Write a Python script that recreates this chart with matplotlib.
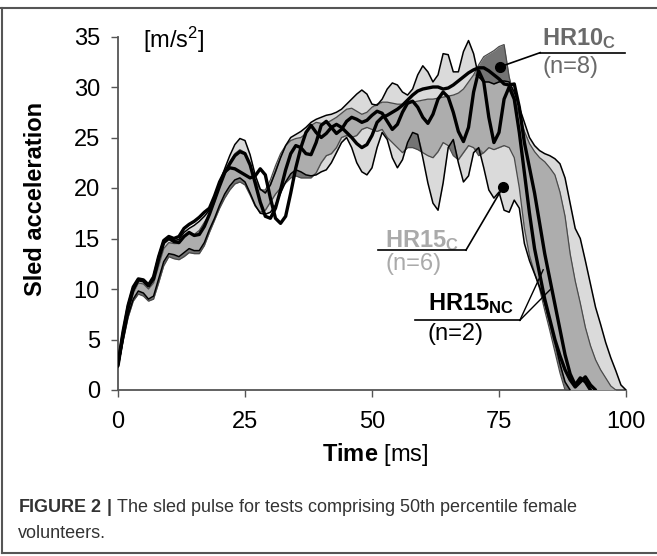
import numpy as np
import matplotlib
matplotlib.use("Agg")
import matplotlib.pyplot as plt
from matplotlib.lines import Line2D

plt.rcParams['font.family'] = ['Liberation Sans', 'DejaVu Sans']
plt.rcParams['mathtext.fontset'] = 'custom'
plt.rcParams['mathtext.rm'] = 'Liberation Sans'
plt.rcParams['mathtext.bf'] = 'Liberation Sans:bold'
plt.rcParams['mathtext.it'] = 'Liberation Sans:italic'

# time grid [ms]
time_ms = np.arange(0, 101)

# HR15_C corridor (light grey)
hr15c_upper = [2.6, 5.5, 8.0, 9.8, 10.9, 10.8, 10.3, 11.0, 12.8, 14.5,
               15.0, 14.8, 14.9, 15.6, 16.0, 16.3, 16.7, 17.2, 17.8, 19.0,
               20.5, 21.9, 23.2, 24.3, 24.9, 24.7, 23.3, 21.3, 19.9, 19.5,
               20.3, 21.6, 23.0, 24.2, 25.0, 25.3, 25.6, 26.0, 26.5, 26.8,
               27.0, 27.2, 27.3, 27.5, 27.8, 28.3, 28.8, 29.3, 29.7, 29.3,
               28.3, 28.2, 28.8, 29.8, 30.4, 30.2, 29.5, 29.2, 29.8, 31.2,
               32.1, 31.5, 30.5, 31.2, 33.3, 33.2, 31.5, 31.5, 33.5, 34.6,
               33.3, 31.0, 30.5, 30.5, 30.3, 30.5, 30.6, 30.5, 29.5, 28.0,
               26.5, 25.0, 24.2, 23.7, 23.4, 23.2, 22.9, 22.4, 21.0, 18.5,
               16.0, 15.0, 12.8, 10.5, 8.2, 6.5, 4.7, 3.2, 1.9, 0.5,
               0.0]
hr15c_lower = [2.3, 5.0, 7.4, 9.0, 9.8, 9.6, 9.0, 9.3, 11.0, 12.7,
               13.5, 13.4, 13.2, 13.6, 14.0, 13.8, 13.8, 14.6, 15.9, 17.0,
               18.3, 19.4, 20.2, 20.8, 21.0, 20.6, 19.5, 18.3, 17.5, 17.4,
               17.6, 18.3, 19.5, 20.6, 21.4, 21.8, 21.6, 21.3, 21.2, 21.3,
               21.6, 21.8, 22.5, 23.5, 24.5, 25.0, 24.0, 22.5, 21.6, 21.3,
               22.0, 24.0, 25.5, 24.8, 23.0, 22.0, 22.8, 24.5, 25.5, 25.3,
               23.0, 20.5, 18.5, 17.8, 20.5, 24.0, 24.8, 22.5, 20.6, 21.2,
               23.5, 24.0, 22.0, 19.8, 19.0, 19.6, 17.8, 17.6, 18.8, 18.0,
               14.5, 12.8, 11.5, 10.2, 8.6, 6.8, 4.8, 2.6, 0.8, 0.0,
               0.0, 0.0, 0.0, 0.0, 0.0, 0.0, 0.0, 0.0, 0.0, 0.0,
               0.0]

# HR10_C corridor (dark grey)
hr10c_upper = [2.5, 5.3, 7.8, 9.6, 10.6, 10.5, 10.0, 10.6, 12.3, 14.0,
               14.6, 14.5, 14.5, 15.2, 15.6, 15.4, 15.8, 16.6, 17.4, 18.6,
               20.2, 21.5, 22.6, 23.4, 23.8, 23.5, 22.3, 20.8, 19.8, 19.8,
               20.8, 22.2, 23.4, 24.2, 24.7, 24.9, 25.0, 25.4, 26.2, 26.5,
               26.4, 26.4, 26.7, 27.0, 27.4, 27.8, 27.9, 27.6, 27.3, 27.5,
               28.0, 28.3, 28.5, 28.5, 28.4, 28.3, 28.3, 28.3, 28.5, 28.6,
               28.7, 28.8, 28.8, 28.9, 29.0, 29.1, 29.2, 29.4, 29.8, 30.5,
               31.2, 32.2, 33.0, 33.3, 33.6, 34.0, 34.2, 31.0, 29.0, 27.2,
               25.6, 24.4, 23.6, 23.0, 22.6, 22.0, 21.3, 19.6, 17.2, 13.5,
               10.8, 8.6, 6.2, 4.4, 3.0, 2.0, 1.2, 0.4, 0.0, 0.0,
               0.0]
hr10c_lower = [2.2, 4.8, 7.2, 8.8, 9.5, 9.3, 8.8, 9.0, 10.6, 12.3,
               13.2, 13.0, 12.9, 13.2, 13.6, 13.5, 13.5, 14.3, 15.6, 16.8,
               18.0, 19.0, 19.8, 20.4, 20.6, 20.3, 19.3, 18.2, 17.6, 17.8,
               18.6, 19.4, 20.0, 20.5, 21.0, 21.2, 21.0, 21.0, 21.0, 21.5,
               22.5, 23.2, 23.4, 24.0, 25.0, 25.2, 25.0, 25.2, 25.8, 26.0,
               25.8, 25.6, 25.8, 25.0, 24.5, 24.0, 23.5, 24.0, 24.0, 23.8,
               23.5, 23.2, 23.0, 23.6, 24.5, 24.2, 23.2, 22.8, 23.5, 24.2,
               24.0, 23.2, 23.5, 24.0, 23.8, 24.0, 24.2, 24.0, 23.0, 20.0,
               16.0, 13.3, 11.6, 10.0, 7.9, 5.9, 3.8, 1.7, 0.0, 0.0,
               0.0, 0.0, 0.0, 0.0, 0.0, 0.0, 0.0, 0.0, 0.0, 0.0,
               0.0]

# HR15_NC individual tests (thick black)
hr15nc_test1 = [2.6, 5.8, 8.4, 10.2, 11.0, 10.9, 10.4, 11.2, 13.2, 14.8,
                15.2, 15.0, 15.2, 16.0, 16.4, 16.7, 17.1, 17.6, 18.0, 19.2,
                20.6, 21.6, 22.0, 21.9, 21.6, 21.3, 21.0, 21.2, 21.9, 21.3,
                19.0, 17.0, 16.5, 17.2, 19.5, 22.0, 24.0, 25.5, 26.2, 25.5,
                25.0, 25.4, 26.0, 26.3, 26.0, 25.5, 25.0, 24.4, 24.0, 24.3,
                25.2, 26.5, 27.0, 27.2, 27.5, 27.8, 28.2, 28.7, 29.2, 29.6,
                29.8, 29.9, 30.0, 30.0, 29.8, 29.9, 30.2, 30.6, 31.0, 31.4,
                31.7, 31.9, 31.9, 31.6, 31.2, 30.8, 30.3, 30.2, 30.3, 28.0,
                24.5, 22.0, 19.5, 16.5, 13.5, 11.0, 8.5, 6.0, 3.5, 1.6,
                0.5, 1.2, 0.8, 0.0, np.nan, np.nan, np.nan, np.nan, np.nan, np.nan,
                np.nan]
hr15nc_test2 = [2.4, 5.5, 8.2, 10.0, 10.9, 10.8, 10.3, 11.0, 13.0, 14.6,
                15.0, 14.7, 14.6, 15.2, 15.6, 15.3, 15.4, 16.2, 17.4, 18.8,
                20.2, 21.5, 22.4, 23.2, 23.6, 23.4, 22.3, 20.5, 18.6, 17.2,
                17.0, 18.0, 19.8, 21.8, 23.4, 24.2, 24.0, 23.4, 23.3, 24.5,
                26.2, 26.6, 26.0, 25.4, 25.8, 26.6, 27.0, 26.8, 26.5, 26.7,
                27.2, 27.6, 27.4, 26.6, 25.8, 26.3, 27.5, 28.4, 28.6, 28.0,
                27.0, 26.4, 27.3, 28.8, 29.5, 29.0, 27.5, 25.6, 24.6, 26.0,
                29.5, 31.6, 30.5, 27.0, 24.5, 25.5, 28.8, 30.0, 28.8, 25.5,
                21.5, 17.5, 14.0, 11.5, 9.0, 7.0, 5.0, 3.4, 2.0, 1.0,
                0.3, 0.8, 1.3, 0.5, 0.0, np.nan, np.nan, np.nan, np.nan, np.nan,
                np.nan]

x_ticks = [0, 25, 50, 75, 100]
y_ticks = [0, 5, 10, 15, 20, 25, 30, 35]

LIGHT = '#dadada'
MEDIUM = '#adadad'
DARK = '#747474'

fig = plt.figure(figsize=(6.57, 5.56), dpi=100)
ax = fig.add_axes([118 / 657, 166 / 556, 508 / 657, 353.5 / 556])

t = time_ms
u15 = np.array(hr15c_upper); l15 = np.array(hr15c_lower)
u10 = np.array(hr10c_upper); l10 = np.array(hr10c_lower)

ax.fill_between(t, l15, u15, where=u15 > l15, interpolate=True, color=LIGHT, lw=0, zorder=1)
ax.fill_between(t, l10, u10, where=u10 > l10, interpolate=True, color=DARK, lw=0, zorder=2)
lo = np.maximum(l10, l15)
hi = np.minimum(u10, u15)
ax.fill_between(t, lo, hi, where=hi > lo, interpolate=True, color=MEDIUM, lw=0, zorder=3)


def trim(arr):
    a = np.array(arr, dtype=float)
    nz = np.where(a > 0)[0]
    last = nz[-1] + 1 if len(nz) else len(a) - 1
    out = a.copy()
    out[last + 1:] = np.nan
    return out


ax.plot(t, trim(u10), color='#4a4a4a', lw=0.9, zorder=4)
ax.plot(t, trim(l10), color='#4a4a4a', lw=0.9, zorder=4)
ax.plot(t, trim(u15), color='black', lw=1.1, zorder=5)
ax.plot(t, trim(l15), color='black', lw=1.1, zorder=5)
ax.plot(t, hr15nc_test1, color='black', lw=2.4, zorder=6, solid_capstyle='round')
ax.plot(t, hr15nc_test2, color='black', lw=2.4, zorder=6, solid_capstyle='round')

ax.set_xlim(0, 100)
ax.set_ylim(0, 35)
ax.set_xticks(x_ticks)
ax.set_yticks(y_ticks)
ax.set_xticklabels([str(v) for v in x_ticks])
ax.set_yticklabels([str(v) for v in y_ticks])
for s in ['top', 'right']:
    ax.spines[s].set_visible(False)
for s in ['left', 'bottom']:
    ax.spines[s].set_color('#555555')
    ax.spines[s].set_linewidth(1.3)
ax.spines['left'].set_bounds(0, 35)
ax.tick_params(direction='out', length=5, width=1, color='#555555',
               labelsize=17, labelcolor='black')
ax.tick_params(axis='x', pad=10)
ax.tick_params(axis='y', pad=8)
ax.patch.set_alpha(0)

ax.set_ylabel('Sled acceleration', fontsize=17, fontweight='bold')
ax.yaxis.set_label_coords(-0.14, 0.54)
ax.set_xlabel(r'$\mathbf{Time}$ [ms]', fontsize=17)
ax.xaxis.set_label_coords(0.506, -0.145)

ax.text(4.9, 33.9, r'[m/s$^{2}$]', fontsize=17, ha='left', va='baseline')

# annotations
# HR10_C
ax.text(83.5, 34.1, r'$\mathbf{HR10}_{\mathbf{C}}$', fontsize=17, color='#6a6a6a',
        ha='left', va='baseline', zorder=10)
ax.text(83.5, 31.35, '(n=8)', fontsize=17, color='#6a6a6a', ha='left', va='baseline', zorder=10)
ax.plot([83.1, 99.8], [33.4, 33.4], color='black', lw=1.2, zorder=10, clip_on=False)
ax.plot([83.1, 75.2], [33.4, 32.0], color='black', lw=1.2, zorder=10)
ax.plot([75.2], [32.0], 'o', color='black', ms=7, zorder=11)

# HR15_C
ax.text(52.6, 14.15, r'$\mathbf{HR15}_{\mathbf{C}}$', fontsize=17, color='#aaaaaa',
        ha='left', va='baseline', zorder=10)
ax.text(52.6, 11.9, '(n=6)', fontsize=17, color='#aaaaaa', ha='left', va='baseline', zorder=10)
ax.plot([51.2, 68.5], [13.85, 13.85], color='black', lw=1.2, zorder=10)
ax.plot([68.5, 75.8], [13.85, 20.1], color='black', lw=1.2, zorder=10)
ax.plot([75.8], [20.1], 'o', color='black', ms=7, zorder=11)

# HR15_NC
ax.text(61.0, 7.9, r'$\mathbf{HR15}_{\mathbf{NC}}$', fontsize=17, color='black',
        ha='left', va='baseline', zorder=10)
ax.text(61.0, 4.95, '(n=2)', fontsize=17, color='black', ha='left', va='baseline', zorder=10)
ax.plot([58.5, 79.1], [6.9, 6.9], color='black', lw=1.2, zorder=10)
ax.plot([79.1, 83.7], [6.9, 11.9], color='black', lw=1.0, zorder=10)
ax.plot([79.1, 85.4], [6.9, 10.1], color='black', lw=1.0, zorder=10)

# caption
fig.text(18 / 657, 1 - 512 / 556,
         r'$\mathbf{FIGURE\ 2\ |}$ The sled pulse for tests comprising 50th percentile female',
         fontsize=13, color='#333333', ha='left', va='baseline')
fig.text(18 / 657, 1 - 538 / 556, 'volunteers.', fontsize=13, color='#333333',
         ha='left', va='baseline')

# frame
frame_kw = dict(transform=fig.transFigure, color='#555555', lw=1.5)
fig.add_artist(Line2D([0, 1], [1 - 8 / 556, 1 - 8 / 556], **frame_kw))
fig.add_artist(Line2D([1.5 / 657, 1.5 / 657], [1 - 8 / 556, 3 / 556], **frame_kw))
fig.add_artist(Line2D([1.5 / 657, 1], [3 / 556, 3 / 556], **frame_kw))

fig.savefig('out.png', dpi=100)
